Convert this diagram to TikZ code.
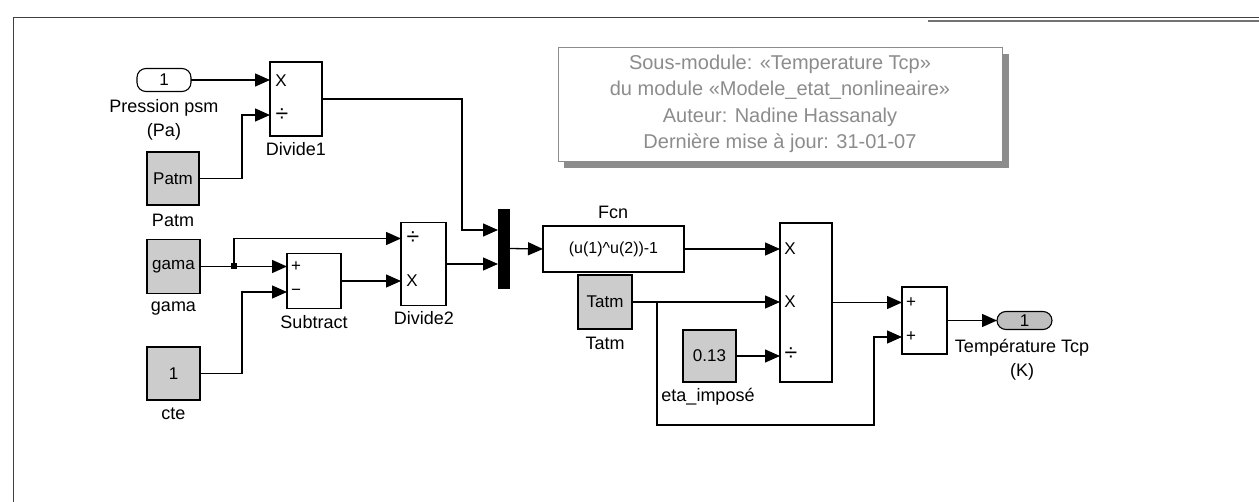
\documentclass[tikz,border=0pt]{standalone}
\usepackage{fontspec}
\setmainfont{Liberation Sans}
\usetikzlibrary{arrows.meta,calc}
\begin{document}
\begin{tikzpicture}[x=1pt,y=-1pt,
  every node/.style={inner sep=0pt,outer sep=0pt},
  blk/.style={draw,line width=1.1pt,fill=white},
  cst/.style={draw,line width=1.1pt,fill=black!20,font=\fontsize{17}{19}\selectfont},
  pill/.style={draw,line width=1.1pt,rounded corners=9pt,font=\fontsize{17}{19}\selectfont},
  lbl/.style={font=\fontsize{18}{24}\selectfont,align=center},
  port/.style={font=\fontsize{17}{19}\selectfont},
  divport/.style={font=\fontsize{23}{25}\selectfont},
  arr/.style={line width=1.3pt,-{Triangle[length=15pt,width=13pt]}}]
\useasboundingbox (0,0) rectangle (1259,502);
% frame
\draw[line width=1pt,black!75] (13,502) -- (13,18) -- (1259,18);
\draw[line width=2pt,black!55] (928,21) -- (1259,21);

% comment
\fill[black!45] (564,54) rectangle (1009,168);
\node[draw=black!45,fill=white,line width=0.8pt,minimum width=444pt,minimum height=114pt,
  text=black!45,align=center,font=\fontsize{20}{26.5}\selectfont] (note) at (780,104)
  {Sous-module: «Temperature Tcp»\\du module «Modele\_etat\_nonlineaire»\\Auteur: Nadine Hassanaly\\Dernière mise à jour: 31-01-07};

% blocks
\node[pill,fill=white,minimum width=54pt,minimum height=23pt] (in1) at (164,80) {1};
\node[lbl] (in1lbl) at (164,120) {Pression psm\\(Pa)};
\node[blk,minimum width=52pt,minimum height=74pt] (div1) at (296,99) {};
\node[lbl] (div1lbl) at (296,149) {Divide1};
\node[port] (d1a) at (281,81) {X};
\node[divport] (d1b) at (282,115) {÷};

\node[cst,minimum width=52pt,minimum height=53pt] (patm) at (173,178.5) {Patm};
\node[lbl] (patmlbl) at (173,220) {Patm};
\node[cst,minimum width=53pt,minimum height=54pt] (gama) at (173.5,266.5) {gama};
\node[lbl] (gamalbl) at (173.5,309) {gama};
\node[cst,minimum width=53pt,minimum height=53pt] (cte) at (173.5,373.5) {1};
\node[lbl] (ctelbl) at (173.5,414) {cte};

\node[blk,minimum width=54pt,minimum height=55pt] (sub) at (314,281) {};
\node[lbl] (sublbl) at (314,322) {Subtract};
\node[port] (sa) at (296,266.5) {+};
\node[port] (sb) at (296,292) {−};

\node[blk,minimum width=45pt,minimum height=83pt] (div2) at (423.5,264) {};
\node[lbl] (div2lbl) at (424,318) {Divide2};
\node[divport] (d2a) at (413,238.5) {÷};
\node[port] (d2b) at (412,281) {X};

\node[draw,fill=black,minimum width=11pt,minimum height=79pt] (mux) at (503.5,248.5) {};

\node[blk,minimum width=141pt,minimum height=46pt,font=\fontsize{16}{18}\selectfont] (fcn) at (613.5,249) {(u(1)\textasciicircum u(2))-1};
\node[lbl] (fcnlbl) at (613,212) {Fcn};

\node[cst,minimum width=54pt,minimum height=54pt] (tatm) at (605,302) {Tatm};
\node[lbl] (tatmlbl) at (605,343) {Tatm};
\node[cst,minimum width=53pt,minimum height=52pt] (c013) at (709.5,356) {0.13};
\node[lbl] (c013lbl) at (708,397) {eta\_imposé};

\node[blk,minimum width=52pt,minimum height=159pt] (prod) at (806,302.5) {};
\node[port] (pa) at (790,249) {X};
\node[port] (pb) at (790,302) {X};
\node[divport] (pc) at (791,354) {÷};

\node[blk,minimum width=45pt,minimum height=67pt] (sum) at (924.5,320.5) {};
\node[port] (ua) at (911,302.5) {+};
\node[port] (ub) at (911,337) {+};

\node[pill,fill=black!25,minimum width=55pt,minimum height=18pt] (out1) at (1024.5,320.5) {1};
\node[lbl] (out1lbl) at (1022,359.5) {Température Tcp\\(K)};

% wires
\draw[arr] (in1.east) -- (div1.west |- in1.east);
\draw[arr] (patm.east) -- ++(43,0) |- ([yshift=-16pt]div1.west);
\draw[arr] (div1.east) -- ++(140,0) |- ([yshift=18.5pt]mux.west);
\coordinate (br1) at (234,266.5);
\draw[arr] (gama.east) -- (sub.west |- gama.east);
\fill (br1) ++(-3,-3) rectangle ++(6,6);
\draw[arr] (br1) |- ([yshift=25.5pt]div2.west);
\draw[arr] (cte.east) -- ++(42,0) |- ([yshift=-11pt]sub.west);
\draw[arr] (sub.east) -- (div2.west |- sub.east);
\draw[arr] (div2.east) -- (mux.west |- div2.east);
\draw[arr] (mux.east) -- (fcn.west);
\draw[arr] (fcn.east) -- (prod.west |- fcn.east);
\draw[arr] (tatm.east) -- (prod.west |- tatm.east);
\coordinate (br2) at (657,302);
\draw[arr] (br2) |- (874,425) |- ([yshift=-16.5pt]sum.west);
\draw[arr] (c013.east) -- (prod.west |- c013.east);
\draw[arr] (prod.east) -- (sum.west |- prod.east);
\draw[arr] (sum.east) -- (out1.west);
\end{tikzpicture}
\end{document}
